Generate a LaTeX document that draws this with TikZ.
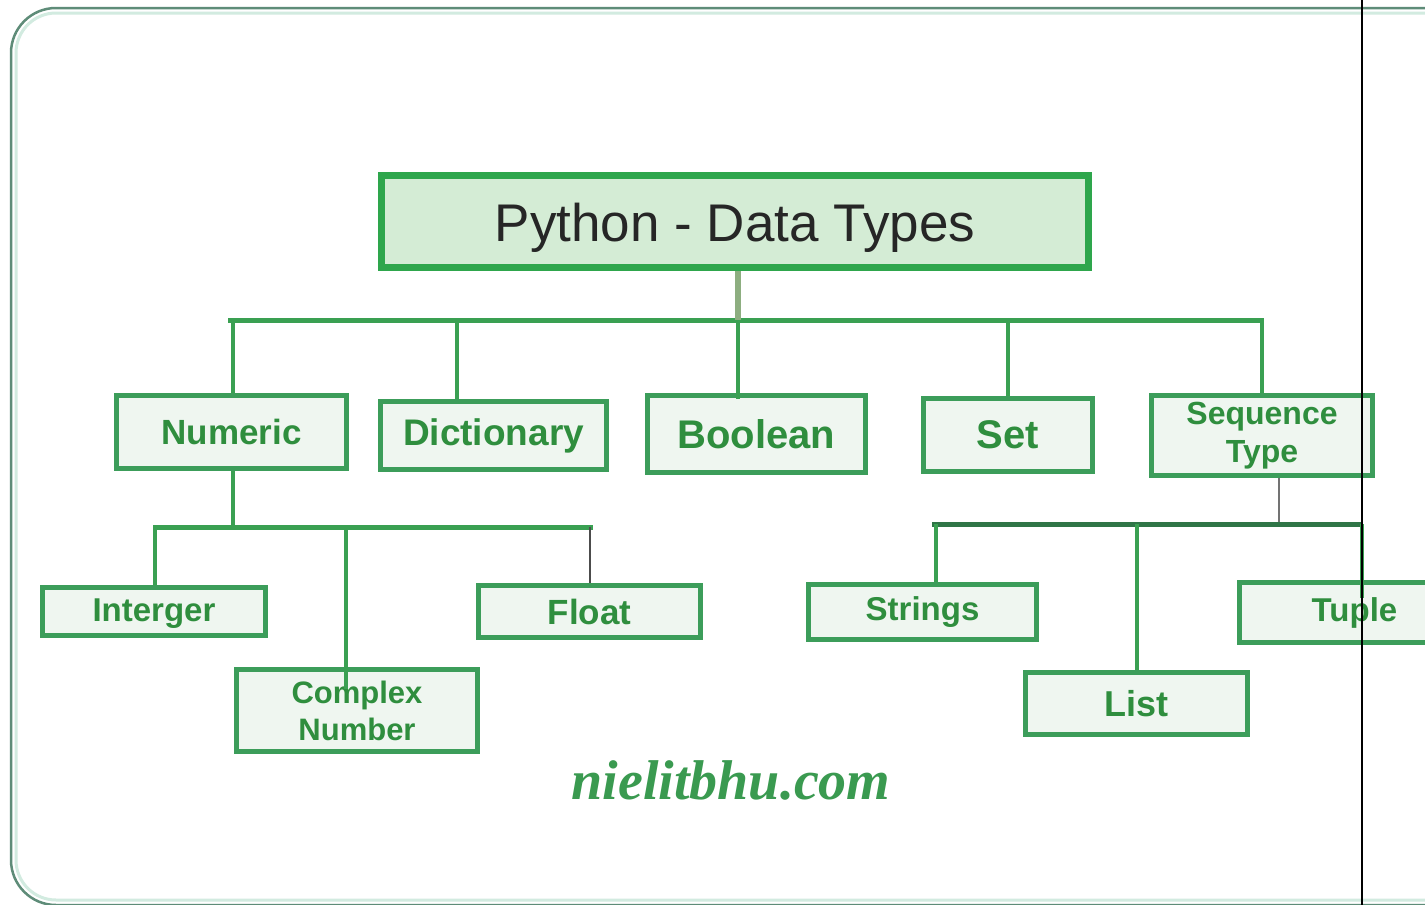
\documentclass[tikz,border=0pt]{standalone}
\usepackage{fontspec}
\setmainfont{Liberation Sans}
\newfontfamily\markfont{Liberation Serif}
\usetikzlibrary{calc}
\definecolor{frameline}{HTML}{5E8C78}
\definecolor{frameglow}{HTML}{D2EBE0}
\definecolor{boxline}{HTML}{3C9D5A}
\definecolor{titleline}{HTML}{2EA64C}
\definecolor{titlefill}{HTML}{D4ECD5}
\definecolor{boxfill}{HTML}{EFF6F0}
\definecolor{labelgreen}{HTML}{2F8E3E}
\definecolor{busgreen}{HTML}{3AA052}
\definecolor{stemgrey}{HTML}{8DAE80}
\definecolor{seqbus}{HTML}{2F7547}
\definecolor{marktext}{HTML}{3A9A50}
\begin{document}
\begin{tikzpicture}[x=1pt,y=-1pt,
  typebox/.style={draw=boxline, line width=5pt, fill=boxfill, inner sep=0pt,
    text=labelgreen, align=center},
  fs/.style 2 args={font=\fontsize{#1}{#2}\selectfont\bfseries},
  titlebox/.style={draw=titleline, line width=7pt, fill=titlefill, inner sep=0pt,
    text=black!85, font=\fontsize{53}{58}\selectfont},
  bus/.style={draw=busgreen, line width=5pt},
  drop/.style={draw=busgreen, line width=4pt},
  thinlink/.style={draw=black!70, line width=1.5pt},
  seqlink/.style={draw=black!55, line width=2pt},
  seqbusline/.style={draw=seqbus, line width=5pt}
]
\useasboundingbox (0,0) rectangle (1425,905);
\fill[white] (0,0) rectangle (1425,905);

% outer rounded frame (runs off the right and bottom edges)
\draw[frameglow, line width=3pt, rounded corners=40pt] (16,13) rectangle (1480,900);
\draw[frameline, line width=2.5pt, rounded corners=45pt] (11,8) rectangle (1480,905);

% top-level bus
\coordinate (busL) at (228,320);
\coordinate (busR) at (1264,320);
\coordinate (stem) at (738,320);
\coordinate (dNum) at (233,320);
\coordinate (dDict) at (457,320);
\coordinate (dSet) at (1008,320);
\coordinate (dSeq) at (1262,320);

% numeric sub-bus
\coordinate (nStem) at (233,527);
\coordinate (nbL) at (153,527);
\coordinate (nbR) at (593,527);
\coordinate (dInt) at (155,527);
\coordinate (dCpx) at (346,527);
\coordinate (dFlt) at (590,527);

% sequence sub-bus
\coordinate (sStem) at (1279,524);
\coordinate (sbL) at (932,524);
\coordinate (sbR) at (1362,524);
\coordinate (dStr) at (936,524);
\coordinate (dLst) at (1137,524);
\coordinate (dTup) at (1362,524);

% nodes
\node[titlebox, minimum width=707pt, minimum height=92pt] (title) at (735,221.5) {\raisebox{-20pt}[0pt][0pt]{Python - Data Types}};

\node[typebox, fs={35}{38}, minimum width=230pt, minimum height=73pt] (num) at (231.5,432) {Numeric};
\node[typebox, fs={37}{40}, minimum width=226pt, minimum height=68pt] (dict) at (493.5,435.5) {Dictionary};
\node[typebox, fs={40}{44}, minimum width=218pt, minimum height=77pt] (bool) at (756.5,434) {Boolean};
\node[typebox, fs={40}{44}, minimum width=169pt, minimum height=73pt] (set) at (1008,435) {Set};
\node[typebox, fs={32}{38}, minimum width=221pt, minimum height=80pt] (seq) at (1262,435.5) {Sequence\\[0pt]Type};

\node[typebox, fs={33}{36}, minimum width=223pt, minimum height=48pt] (int) at (154,611.5) {\raisebox{-10pt}[0pt][0pt]{Interger}};
\node[typebox, fs={31}{37}, minimum width=241pt, minimum height=82pt] (cpx) at (357,710.5) {Complex\\Number};
\node[typebox, fs={35}{38}, minimum width=222pt, minimum height=52pt] (flt) at (589.5,611.5) {Float};

\node[typebox, fs={33}{36}, minimum width=228pt, minimum height=55pt] (str) at (922.5,612) {Strings};
\node[typebox, fs={36}{40}, minimum width=222pt, minimum height=62pt] (lst) at (1136.5,703.5) {List};
\node[typebox, fs={33}{36}, minimum width=231pt, minimum height=60pt] (tup) at (1354.5,612.5) {Tuple};

% top-level connectors
\draw[bus] (busL) -- (busR);
\draw[stemgrey, line width=6pt] (stem |- title.south) -- (stem);
\draw[drop] (stem) -- ($(stem |- bool.north)+(0,6)$);
\draw[drop] (dNum) -- (dNum |- num.north);
\draw[drop] (dDict) -- (dDict |- dict.north);
\draw[drop] (dSet) -- (dSet |- set.north);
\draw[drop] (dSeq) -- (dSeq |- seq.north);

% numeric branch
\draw[drop] (nStem |- num.south) -- (nStem);
\draw[bus] (nbL) -- (nbR);
\draw[drop] (dInt) -- (dInt |- int.north);
\draw[drop] (dCpx) -- ($(dCpx |- cpx.north)+(0,22)$);
\draw[thinlink] (dFlt) -- (dFlt |- flt.north);

% sequence branch
\draw[seqlink] (sStem |- seq.south) -- (sStem);
\draw[seqbusline] (sbL) -- (sbR);
\draw[drop] (dStr) -- (dStr |- str.north);
\draw[drop] (dLst) -- (dLst |- lst.north);
\draw[drop] (dTup) -- ($(dTup |- tup.north)+(0,18)$);

% site mark
\node[text=marktext, font=\markfont\bfseries\itshape\fontsize{56}{60}\selectfont] (mark) at (731,780) {nielitbhu.com};

% thin vertical rule
\coordinate (ruleTop) at (1362,0);
\coordinate (ruleBot) at (1362,905);
\draw[black, line width=1.5pt] (ruleTop) -- (ruleBot);
\end{tikzpicture}
\end{document}
